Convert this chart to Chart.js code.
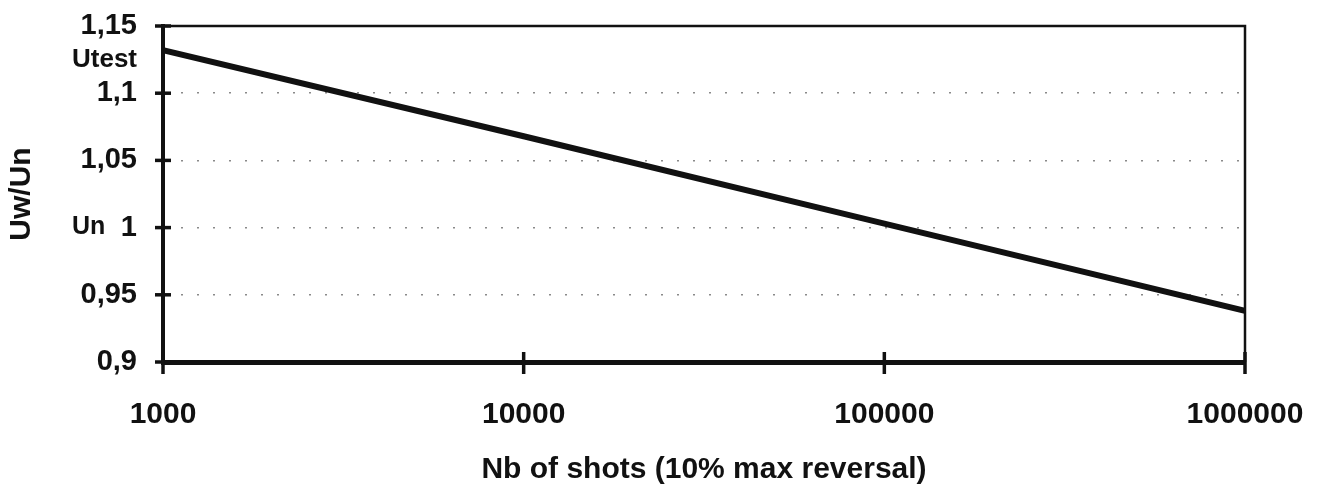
<!DOCTYPE html>
<html>
<head>
<meta charset="utf-8">
<script src="https://cdn.jsdelivr.net/npm/chart.js@4"></script>
<style>
  html, body { margin: 0; padding: 0; background: #fff; }
  #wrap { width: 1324px; height: 492px; }
</style>
</head>
<body>
<div id="wrap"><canvas id="c"></canvas></div>
<script>
// Datos (escala log en X)
const shots = [1000, 10000, 100000, 1000000];
const ratio = [1.132, 1.068, 1.003, 0.938];
const xTicks = [1000, 10000, 100000, 1000000];
const refLabels = ['Utest', 'Un'];
const refValues = [1.125, 1.0];

const FONT = '"Liberation Sans", Arial, sans-serif';

function fmtComa(v) {
  return String(+v.toFixed(2)).replace('.', ',');
}

// Marco superior/derecho, marcas cruzadas y etiquetas Utest / Un
const decoracion = {
  id: 'decoracion',
  afterDraw(chart) {
    const { ctx, chartArea: a, scales: { x, y } } = chart;
    ctx.save();
    ctx.strokeStyle = '#111';
    ctx.lineWidth = 2.5;
    ctx.beginPath();
    ctx.moveTo(a.left, a.top); ctx.lineTo(a.right, a.top); ctx.lineTo(a.right, a.bottom);
    ctx.stroke();

    ctx.lineWidth = 3.5;
    y.ticks.forEach(t => {
      const py = y.getPixelForValue(t.value);
      ctx.beginPath(); ctx.moveTo(a.left - 8, py); ctx.lineTo(a.left + 8, py); ctx.stroke();
    });
    x.ticks.forEach(t => {
      const px = x.getPixelForValue(t.value);
      ctx.beginPath(); ctx.moveTo(px, a.bottom - 10); ctx.lineTo(px, a.bottom + 12); ctx.stroke();
    });

    ctx.fillStyle = '#111';
    ctx.textBaseline = 'middle';
    ctx.textAlign = 'left';
    refLabels.forEach((txt, i) => {
      ctx.font = 'bold ' + (i === 0 ? 26 : 25) + 'px ' + FONT;
      ctx.fillText(txt, 72, y.getPixelForValue(refValues[i]));
    });
    ctx.restore();
  }
};

new Chart(document.getElementById('c'), {
  type: 'line',
  data: {
    datasets: [{
      data: shots.map((s, i) => ({ x: s, y: ratio[i] })),
      borderColor: '#111', borderWidth: 6, pointRadius: 0, tension: 0,
    }],
  },
  options: {
    responsive: true, maintainAspectRatio: false, animation: false,
    layout: { padding: { top: 26, right: 79, left: 0, bottom: 0 } },
    plugins: { legend: { display: false }, tooltip: { enabled: false } },
    scales: {
      x: {
        type: 'logarithmic', min: 1000, max: 1000000,
        afterBuildTicks: s => { s.ticks = xTicks.map(v => ({ value: v })); },
        afterFit: s => { s.height = 130; s.paddingLeft = 0; s.paddingRight = 0; },
        grid: { display: false },
        border: { color: '#111', width: 5 },
        ticks: { color: '#111', padding: 27, maxRotation: 0, autoSkip: false,
                 font: { family: FONT, size: 30, weight: 'bold' },
                 callback: v => String(v) },
        title: { display: true, text: 'Nb of shots (10% max reversal)', color: '#111',
                 font: { family: FONT, size: 30, weight: 'bold' }, padding: { top: 0, bottom: 4 } },
      },
      y: {
        min: 0.9, max: 1.15,
        afterFit: s => { s.width = 163; s.paddingTop = 0; s.paddingBottom = 0; },
        grid: {
          color: c => (c.tick && (Math.abs(c.tick.value - 0.9) < 1e-6 || Math.abs(c.tick.value - 1.15) < 1e-6)) ? 'rgba(0,0,0,0)' : '#8a8a8a',
          lineWidth: 1.5, drawTicks: false,
        },
        border: { color: '#111', width: 4, dash: [2, 14] },
        ticks: { stepSize: 0.05, color: '#111', padding: 26,
                 font: { family: FONT, size: 29, weight: 'bold' },
                 callback: v => fmtComa(v) },
        title: { display: true, text: 'Uw/Un', color: '#111',
                 font: { family: FONT, size: 30, weight: 'bold' }, padding: { top: 4, bottom: 0 } },
      },
    },
  },
  plugins: [decoracion],
});
</script>
</body>
</html>
